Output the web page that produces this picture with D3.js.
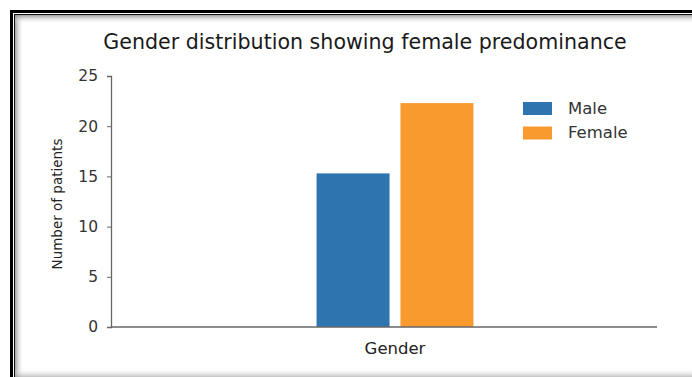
<!DOCTYPE html>
<html>
<head>
<meta charset="utf-8">
<script src="https://cdn.jsdelivr.net/npm/d3@7"></script>
<style>
  body { margin: 0; background: #fff; }
  svg { display: block; font-family: 'DejaVu Sans', sans-serif; }
</style>
</head>
<body>
<script>
const width = 692, height = 377;

// data
const categories = ['Gender'];
const series = ['Male', 'Female'];
const values = [15.3, 22.3];
const colors = ['#2e75b0', '#f89a2e'];
const yTicks = [0, 5, 10, 15, 20, 25];

let svg = d3.select('body').append('svg')
  .attr('width', width)
  .attr('height', height);

// frame with inner shadow
const defs = svg.append('defs');
const gl = defs.append('linearGradient').attr('id', 'shL').attr('x1', 0).attr('x2', 1).attr('y1', 0).attr('y2', 0);
gl.append('stop').attr('offset', 0).attr('stop-color', '#888').attr('stop-opacity', 0.8);
gl.append('stop').attr('offset', 1).attr('stop-color', '#fff').attr('stop-opacity', 0);
const gt = defs.append('linearGradient').attr('id', 'shT').attr('x1', 0).attr('x2', 0).attr('y1', 0).attr('y2', 1);
gt.append('stop').attr('offset', 0).attr('stop-color', '#888').attr('stop-opacity', 0.8);
gt.append('stop').attr('offset', 1).attr('stop-color', '#fff').attr('stop-opacity', 0);
const gb = defs.append('linearGradient').attr('id', 'shB').attr('x1', 0).attr('x2', 0).attr('y1', 1).attr('y2', 0);
gb.append('stop').attr('offset', 0).attr('stop-color', '#999').attr('stop-opacity', 0.6);
gb.append('stop').attr('offset', 1).attr('stop-color', '#fff').attr('stop-opacity', 0);

svg.append('rect').attr('x', 15).attr('y', 15).attr('width', 9).attr('height', height).attr('fill', 'url(#shL)');
svg.append('rect').attr('x', 15).attr('y', 15).attr('width', width).attr('height', 9).attr('fill', 'url(#shT)');
svg.append('rect').attr('x', 15).attr('y', 368).attr('width', width).attr('height', 9).attr('fill', 'url(#shB)');

svg.append('rect')
  .attr('x', 11.5).attr('y', 11.5)
  .attr('width', width + 20).attr('height', height + 20)
  .attr('fill', 'none').attr('stroke', '#000').attr('stroke-width', 3);
svg.append('rect')
  .attr('x', 14.5).attr('y', 14.5)
  .attr('width', width + 20).attr('height', height + 20)
  .attr('fill', 'none').attr('stroke', '#111').attr('stroke-width', 1);

// scales
const x0 = d3.scaleBand().domain(categories).range([133, 657]).paddingOuter(1.17).paddingInner(0);
const x1 = d3.scaleBand().domain(series).range([0, x0.bandwidth()]).paddingInner(0.13);
const y = d3.scaleLinear().domain([0, 25]).range([327, 76]);

// title
svg.append('text')
  .attr('x', 365).attr('y', 49)
  .attr('text-anchor', 'middle')
  .style('font-size', '20.6px')
  .attr('fill', '#1a1a1a')
  .text('Gender distribution showing female predominance');

// bars
const g = svg.append('g');
g.selectAll('rect')
  .data(series)
  .enter()
  .append('rect')
  .attr('x', (d) => x0('Gender') + x1(d))
  .attr('y', (d, i) => y(values[i]))
  .attr('width', x1.bandwidth())
  .attr('height', (d, i) => y(0) - y(values[i]))
  .attr('fill', (d, i) => colors[i]);

// y axis
const yAxis = svg.append('g')
  .attr('transform', 'translate(111,0)')
  .call(d3.axisLeft(y).tickValues(yTicks).tickSize(4).tickPadding(9));
yAxis.select('.domain').attr('stroke', '#666').attr('stroke-width', 1.3);
yAxis.selectAll('.tick line').attr('stroke', '#666');
yAxis.selectAll('.tick text').attr('fill', '#333').style('font-size', '15.5px').style('font-family', 'DejaVu Sans, sans-serif');

// x axis (line only)
svg.append('line')
  .attr('x1', 111).attr('x2', 657)
  .attr('y1', y(0)).attr('y2', y(0))
  .attr('stroke', '#666').attr('stroke-width', 1.3);

svg.append('text')
  .attr('x', x0('Gender') + x0.bandwidth() / 2).attr('y', 354)
  .attr('text-anchor', 'middle')
  .style('font-size', '16.5px')
  .attr('fill', '#222')
  .text('Gender');

svg.append('text')
  .attr('transform', 'translate(62,204) rotate(-90)')
  .attr('text-anchor', 'middle')
  .style('font-size', '13.5px')
  .attr('fill', '#222')
  .text('Number of patients');

// legend
const legend = svg.append('g').selectAll('g')
  .data(series)
  .enter()
  .append('g')
  .attr('transform', (d, i) => 'translate(523,' + (102 + i * 24.5) + ')');
legend.append('rect').attr('width', 29).attr('height', 13).attr('fill', (d, i) => colors[i]);
legend.append('text')
  .attr('x', 45).attr('y', 11.5)
  .style('font-size', '16.5px')
  .attr('fill', '#333')
  .text((d) => d);
</script>
</body>
</html>
